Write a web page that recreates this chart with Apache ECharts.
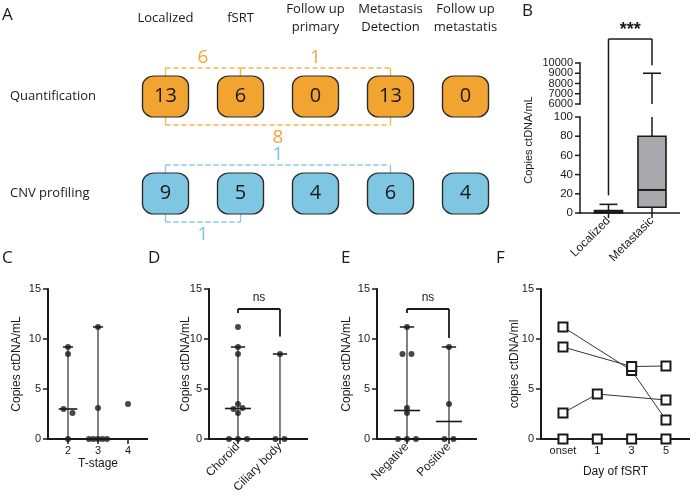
<!DOCTYPE html>
<html><head><meta charset="utf-8">
<script src="https://cdn.jsdelivr.net/npm/echarts@6/dist/echarts.min.js"></script>
<style>html,body{margin:0;padding:0;background:#fff}#c{width:690px;height:500px}</style>
</head><body><div id="c"></div>
<script>
// ---------------- DATA ----------------
// Panel A
const stages = ['Localized', 'fSRT', 'Follow up\nprimary', 'Metastasis\nDetection', 'Follow up\nmetastatis'];
const assays = ['Quantification', 'CNV profiling'];
const quantCounts = [13, 6, 0, 13, 0];
const cnvCounts = [9, 5, 4, 6, 4];
// links: [fromStage, toStage, shared patients]
const quantUpperLinks = [[0, 1, 6], [1, 3, 1]];
const quantLowerLinks = [[0, 3, 8]];
const cnvUpperLinks = [[0, 3, 1]];
const cnvLowerLinks = [[0, 1, 1]];

// Panel B
const bGroups = ['Localized', 'Metastasic'];
const bMin = [0, 0];
const bQ1 = [0, 6];
const bMedian = [1, 24];
const bQ3 = [2.5, 80];
const bMax = [9, 9000];
const bSignif = '***';
const bUpperTicks = [6000, 7000, 8000, 9000, 10000];
const bLowerTicks = [0, 20, 40, 60, 80, 100];

// Panel C
const cStages = [2, 3, 4];
const cValues = [[0, 2.6, 3.0, 8.5, 9.2], [0, 0, 0, 0, 0, 3.1, 11.2], [3.5]];
const cMedian = [3.0, 0, null];
const cLow = [0, 0, null];
const cHigh = [9.2, 11.2, null];

// Panel D
const dGroups = ['Choroid', 'Ciliary body'];
const dValues = [[0, 0, 0, 2.6, 3.0, 3.1, 3.5, 8.5, 9.2, 11.2], [0, 0, 8.5]];
const dMedian = [3.05, 0];
const dLow = [0, 0];
const dHigh = [9.2, 8.5];
const dSignif = ['ns', 13, 12.6, 10.25]; // text, bracket top, left end, right end

// Panel E
const eGroups = ['Negative', 'Positive'];
const eValues = [[0, 0, 0, 2.6, 3.1, 8.5, 8.5, 11.2], [0, 0, 3.5, 9.2]];
const eMedian = [2.85, 1.75];
const eLow = [0, 0];
const eHigh = [11.2, 9.2];
const eSignif = ['ns', 13, 12.6, 10.1];

// Panel F
const fDays = ['onset', '1', '3', '5'];
const fPatients = [
  [11.2, null, 6.85, 1.9],
  [9.2, null, 7.25, 7.3],
  [2.6, 4.5, null, 3.9],
  [0, 0, 0, 0]
];
const yTicks015 = [0, 5, 10, 15];

// ---------------- STYLE / LAYOUT ----------------
const SANS = '"Liberation Sans", Arial, sans-serif';
const HUM = '"Open Sans", "Noto Sans", sans-serif';
const INK = '#1a1a1a';
const ORANGE = '#F2A431';
const ORANGE_LINE = '#F6B455';
const ORANGE_TEXT = '#F5A53A';
const BLUE = '#7EC6E1';
const BLUE_LINE = '#86CAE5';
const BLUE_TEXT = '#7CC3E0';

// grid order: 0 A, 1 B-upper, 2 B-lower, 3 C, 4 D, 5 E, 6 F
const G = {
  A: {left: 128, top: 48, width: 375, height: 194},
  Bu: {left: 580, top: 63, width: 100, height: 41},
  Bl: {left: 580, top: 117, width: 100, height: 96},
  C: {left: 48, top: 289, width: 100, height: 150},
  D: {left: 209, top: 289, width: 99, height: 150},
  E: {left: 377, top: 289, width: 100, height: 150},
  F: {left: 541, top: 289, width: 149, height: 150}
};
const XR = {B: [-0.655, 1.644], C: [4 / 3, 14 / 3], D: [-0.69, 1.667], E: [-0.714, 1.667], F: [-0.64, 3.7]};
const BREAK_GAP = G.Bl.top - (G.Bu.top + G.Bu.height);
const XI = {Bl: 0, C: 1, D: 2, E: 3, F: 4, A: 5, Bu: 6};
const YI = {Bu: 0, Bl: 1, C: 2, D: 3, E: 4, F: 5, A: 6};

// ---------------- HELPERS ----------------
function swarm(vals, pxPerUnit) {
  const order = vals.map((v, i) => i).sort((a, b) => vals[a] - vals[b]);
  const groups = [];
  order.forEach(i => {
    const g = groups[groups.length - 1];
    if (g && Math.abs(vals[i] - vals[g[0]]) <= 0.15) g.push(i); else groups.push([i]);
  });
  const off = new Array(vals.length).fill(0);
  groups.forEach(g => {
    const k = g.length; if (k < 2) return;
    const sp = Math.min(9, 18 / (k - 1));
    g.forEach((i, j) => off[i] = (j - (k - 1) / 2) * sp);
  });
  for (let n = 0; n < groups.length - 1; n++) {
    const g = groups[n], h = groups[n + 1];
    if (g.length === 1 && h.length === 1 && !g.p && !h.p && vals[h[0]] - vals[g[0]] < 0.5) {
      off[g[0]] = 4.5; off[h[0]] = -4.5; g.p = h.p = true;
    }
  }
  return off.map(o => o / pxPerUnit);
}
function dots(groupVals, xs, grid, range) {
  const ppu = grid.width / (range[1] - range[0]);
  const out = [];
  groupVals.forEach((vals, gi) => {
    const off = swarm(vals, ppu);
    vals.forEach((v, j) => out.push([xs[gi] + off[j], v]));
  });
  return out;
}
function L(x1, y1, x2, y2, stroke, w, dash) {
  const s = {stroke: stroke, lineWidth: w};
  if (dash) s.lineDash = dash;
  return {type: 'line', shape: {x1, y1, x2, y2}, style: s};
}
function R(x, y, w, h) {
  return {type: 'rect', shape: {x: x, y: y, width: w, height: h}, style: {fill: INK}};
}
function T(x, y, text, size, color, font, weight, align) {
  return {type: 'text', x: x, y: y, style: {text: text, fontSize: size, fontFamily: font, fontWeight: weight || 'normal',
    fill: color, align: align || 'center', verticalAlign: 'middle'}};
}

function renderLink(params, api) {
  const row = api.value(2), side = api.value(3);
  const a = api.coord([api.value(0), row]);
  const b = api.coord([api.value(1), row]);
  const col = row === 0 ? ORANGE_LINE : BLUE_LINE;
  const tcol = row === 0 ? ORANGE_TEXT : BLUE_TEXT;
  const edge = a[1] + side * 20.5;
  const ly = edge + side * 8;
  return {type: 'group', children: [
    L(a[0], ly, b[0], ly, col, 1.3, [5, 3]),
    L(a[0], edge, a[0], ly, col, 1.3),
    L(b[0], edge, b[0], ly, col, 1.3),
    T((a[0] + b[0]) / 2, ly + (side < 0 ? -10 : 13), String(api.value(4)), 19, tcol, HUM)
  ]};
}

function renderBox(params, api) {
  const cs = params.coordSys;
  const top = cs.y, bot = cs.y + cs.height;
  const i = api.value(0);
  const cx = api.coord([i, 0])[0];
  const Y = v => api.coord([i, v])[1];
  const clamp = y => Math.max(top, Math.min(bot, y));
  const yMin = Y(api.value(1)), yQ1 = Y(api.value(2)), yMed = Y(api.value(3)), yQ3 = Y(api.value(4)), yMax = Y(api.value(5));
  const ch = [];
  const vline = (y1, y2) => { const a = clamp(y1), b = clamp(y2); if (Math.abs(a - b) > 0.5) ch.push(L(cx, a, cx, b, INK, 1.5)); };
  vline(yQ1, yMin); vline(yQ3, yMax);
  const bt = clamp(yQ3), bb = clamp(yQ1);
  if (bb - bt > 0.5) {
    ch.push({type: 'rect', shape: {x: cx - 14, y: bt, width: 28, height: bb - bt}, style: {fill: '#A8A8AD', stroke: INK, lineWidth: 1.6}});
    if (yMed >= top && yMed <= bot) ch.push(L(cx - 14, yMed, cx + 14, yMed, INK, 2));
  }
  if (yMax >= top - 0.5 && yMax <= bot + 0.5) ch.push(L(cx - 9, yMax, cx + 9, yMax, INK, 1.6));
  return {type: 'group', children: ch};
}

function renderSigUpper(params, api) {
  const cs = params.coordSys;
  const xl = api.coord([0, 8000])[0], xr = api.coord([1, 8000])[0];
  const yTop = cs.y - 24;
  const yR = api.coord([1, bMax[1]])[1] - 8;
  return {type: 'group', children: [
    L(xl, yTop, xr, yTop, INK, 1.5),
    L(xr, yTop, xr, yR, INK, 1.5),
    L(xl, yTop, xl, cs.y + cs.height + BREAK_GAP, INK, 1.5),
    T((xl + xr) / 2, yTop - 9, bSignif, 18, INK, SANS, 'bold')
  ]};
}
function renderSigLower(params, api) {
  const cs = params.coordSys;
  const p = api.coord([0, bMax[0]]);
  return L(p[0], p[1] - 9, p[0], cs.y, INK, 1.5);
}

function renderSummary(params, api) {
  const x = api.value(0);
  const pL = api.coord([x, api.value(1)]), pM = api.coord([x, api.value(2)]), pH = api.coord([x, api.value(3)]);
  const step = api.size([1, 0])[0];
  const cap = step * 0.17, med = step * 0.31;
  return {type: 'group', children: [
    L(pL[0], pL[1], pH[0], pH[1], INK, 1.1),
    L(pH[0] - cap, pH[1], pH[0] + cap, pH[1], INK, 1.5),
    L(pL[0] - cap, pL[1], pL[0] + cap, pL[1], INK, 1.5),
    L(pM[0] - med, pM[1], pM[0] + med, pM[1], INK, 1.6)
  ]};
}
function renderSig(params, api) {
  const top = api.value(0), le = api.value(1), re = api.value(2);
  const a = api.coord([0, top]), b = api.coord([1, top]);
  const yl = api.coord([0, le])[1], yr = api.coord([1, re])[1];
  return {type: 'group', children: [
    L(a[0], a[1], b[0], b[1], INK, 1.8),
    L(a[0], a[1], a[0], yl, INK, 1.8),
    L(b[0], b[1], b[0], yr, INK, 1.8),
    T((a[0] + b[0]) / 2, a[1] - 11, params.seriesName, 12, INK, SANS)
  ]};
}

// axis lines + ticks drawn (as filled bars) through each grid's own scales
function axesSeries(xi, yi, o) {
  return {type: 'custom', xAxisIndex: xi, yAxisIndex: yi, z: 3,
    data: [[o.xr[0], o.yr[0]]], encode: {x: 0, y: 1},
    renderItem: (params, api) => {
      const ch = [];
      const w = o.w, tw = o.tw;
      const p0 = api.coord([o.xr[0], o.yr[0]]);
      const pTop = api.coord([o.xr[0], o.yr[1]]);
      ch.push(R(p0[0] - w / 2, pTop[1] - tw / 2, w, p0[1] - pTop[1] + tw / 2 + w / 2));
      o.yTicks.forEach(v => {
        const p = api.coord([o.xr[0], v]);
        ch.push(R(p[0] - 5, p[1] - tw / 2, 5, tw));
        if (o.yLabels) ch.push(T(p[0] - 7, p[1], String(v), o.fs, INK, SANS, 'normal', 'right'));
      });
      if (o.xTicks) {
        const pr = api.coord([o.xr[1], o.yr[0]]);
        ch.push(R(p0[0] - w / 2, p0[1] - w / 2, pr[0] - p0[0] + w / 2, w));
        o.xTicks.forEach(v => {
          const p = api.coord([v, o.yr[0]]);
          ch.push(R(p[0] - tw / 2, p[1], tw, 5));
        });
      }
      return {type: 'group', children: ch};
    }};
}

// ---------------- AXES ----------------
const noLine = {show: false, onZero: false};
const noTick = {show: false};
const lbl = (size, extra) => Object.assign({fontSize: size, color: INK, fontFamily: SANS, margin: 7}, extra || {});
const nameStyle = {fontSize: 12, color: INK, fontFamily: SANS};

function yVal(gi, name, gap) {
  return {type: 'value', gridIndex: gi, min: 0, max: 15, interval: 5,
    axisLine: noLine, axisTick: noTick, axisLabel: lbl(11), splitLine: {show: false},
    name: name, nameLocation: 'middle', nameGap: gap, nameTextStyle: nameStyle, nameMoveOverlap: false};
}
function xVal(gi, range, custom, fmt, rot, name, gap) {
  const ax = {type: 'value', gridIndex: gi, min: range[0], max: range[1],
    axisLine: noLine, axisTick: noTick, splitLine: {show: false},
    axisLabel: lbl(rot ? 12 : 11, {customValues: custom, formatter: fmt, rotate: rot || 0, margin: 6})};
  if (name) Object.assign(ax, {name: name, nameLocation: 'middle', nameGap: gap, nameTextStyle: nameStyle, nameMoveOverlap: false});
  return ax;
}

const grids = [G.A, G.Bu, G.Bl, G.C, G.D, G.E, G.F].map(g => Object.assign({containLabel: false, outerBoundsMode: 'none'}, g));

const xAxes = [
  xVal(2, XR.B, [0, 1], v => bGroups[Math.round(v)], 45),
  xVal(3, XR.C, cStages, v => String(v), 0, 'T-stage', 19),
  xVal(4, XR.D, [0, 1], v => dGroups[Math.round(v)], 45),
  xVal(5, XR.E, [0, 1], v => eGroups[Math.round(v)], 45),
  xVal(6, XR.F, [0, 1, 2, 3], v => fDays[Math.round(v)], 0, 'Day of fSRT', 27),
  {type: 'category', gridIndex: 0, position: 'top', data: stages, axisLine: {show: false}, axisTick: {show: false}, splitLine: {show: false},
    axisLabel: {interval: 0, margin: 30, verticalAlign: 'middle', lineHeight: 18, fontSize: 13, fontFamily: HUM, color: INK}},
  {type: 'value', gridIndex: 1, min: XR.B[0], max: XR.B[1], show: false}
];
const yAxes = [
  {type: 'value', gridIndex: 1, min: 6000, max: 10000, interval: 1000, axisLine: noLine, axisTick: noTick,
    axisLabel: {show: false}, splitLine: {show: false}},
  {type: 'value', gridIndex: 2, min: 0, max: 100, interval: 20, axisLine: noLine, axisTick: noTick,
    axisLabel: lbl(11.5, {margin: 7}), splitLine: {show: false},
    name: 'Copies ctDNA/mL', nameLocation: 'middle', nameGap: 46, nameMoveOverlap: false,
    nameTextStyle: {fontSize: 11, color: INK, fontFamily: SANS, padding: [0, 0, 0, 50]}},
  yVal(3, 'Copies ctDNA/mL', 25),
  yVal(4, 'Copies ctDNA/mL', 17),
  yVal(5, 'Copies ctDNA/mL', 24),
  yVal(6, 'copies ctDNA/ml', 20),
  {type: 'category', gridIndex: 0, inverse: true, data: assays, axisLine: {show: false}, axisTick: {show: false}, splitLine: {show: false},
    axisLabel: {margin: 118, align: 'left', fontSize: 13, fontFamily: HUM, color: INK}}
];

// ---------------- SERIES ----------------
const linkData = [
  ...quantUpperLinks.map(l => [l[0], l[1], 0, -1, l[2]]),
  ...quantLowerLinks.map(l => [l[0], l[1], 0, 1, l[2]]),
  ...cnvUpperLinks.map(l => [l[0], l[1], 1, -1, l[2]]),
  ...cnvLowerLinks.map(l => [l[0], l[1], 1, 1, l[2]])
];
const boxRow = (counts, row, color) => ({
  type: 'scatter', xAxisIndex: XI.A, yAxisIndex: YI.A, symbol: 'roundRect', symbolSize: [46, 41], z: 3,
  data: counts.map((n, i) => [i, row, n]),
  itemStyle: {color: color, borderColor: '#2a2a2a', borderWidth: 1.3, opacity: 1},
  label: {show: true, position: 'inside', formatter: p => String(p.value[2]), fontSize: 20, fontFamily: HUM, color: INK}
});
const bData = bGroups.map((g, i) => [i, bMin[i], bQ1[i], bMedian[i], bQ3[i], bMax[i]]);

function summaryData(xs, low, med, high) {
  const out = [];
  xs.forEach((x, i) => { if (med[i] !== null) out.push([x, low[i], med[i], high[i]]); });
  return out;
}
const dotStyle = {type: 'scatter', symbol: 'circle', symbolSize: 6, itemStyle: {color: INK}, z: 4};

const series = [
  // axes (lines + ticks)
  axesSeries(XI.Bu, YI.Bu, {xr: XR.B, yr: [6000, 10000], yTicks: bUpperTicks, xTicks: null, w: 1.5, tw: 1.5, yLabels: true, fs: 11}),
  axesSeries(XI.Bl, YI.Bl, {xr: XR.B, yr: [0, 100], yTicks: bLowerTicks, xTicks: [0, 1], w: 1.5, tw: 1.5}),
  axesSeries(XI.C, YI.C, {xr: XR.C, yr: [0, 15], yTicks: yTicks015, xTicks: cStages, w: 2, tw: 1.5}),
  axesSeries(XI.D, YI.D, {xr: XR.D, yr: [0, 15], yTicks: yTicks015, xTicks: [0, 1], w: 2, tw: 1.5}),
  axesSeries(XI.E, YI.E, {xr: XR.E, yr: [0, 15], yTicks: yTicks015, xTicks: [0, 1], w: 2, tw: 1.5}),
  axesSeries(XI.F, YI.F, {xr: XR.F, yr: [0, 15], yTicks: yTicks015, xTicks: [0, 1, 2, 3], w: 2, tw: 1.5}),

  boxRow(quantCounts, 0, ORANGE),
  boxRow(cnvCounts, 1, BLUE),
  {type: 'custom', xAxisIndex: XI.A, yAxisIndex: YI.A, renderItem: renderLink, data: linkData, encode: {x: [0, 1], y: 2}, z: 2},

  {type: 'custom', xAxisIndex: XI.Bu, yAxisIndex: YI.Bu, renderItem: renderBox, data: bData, encode: {x: 0, y: [1, 2, 3, 4, 5]}},
  {type: 'custom', xAxisIndex: XI.Bl, yAxisIndex: YI.Bl, renderItem: renderBox, data: bData, encode: {x: 0, y: [1, 2, 3, 4, 5]}},
  {type: 'custom', xAxisIndex: XI.Bu, yAxisIndex: YI.Bu, renderItem: renderSigUpper, data: [[0, 8000]], encode: {x: 0, y: 1}},
  {type: 'custom', xAxisIndex: XI.Bl, yAxisIndex: YI.Bl, renderItem: renderSigLower, data: [[0, bMax[0]]], encode: {x: 0, y: 1}},

  {type: 'custom', xAxisIndex: XI.C, yAxisIndex: YI.C, renderItem: renderSummary, data: summaryData(cStages, cLow, cMedian, cHigh), encode: {x: 0, y: [1, 2, 3]}},
  Object.assign({xAxisIndex: XI.C, yAxisIndex: YI.C, data: dots(cValues, cStages, G.C, XR.C)}, dotStyle),

  {type: 'custom', xAxisIndex: XI.D, yAxisIndex: YI.D, renderItem: renderSummary, data: summaryData([0, 1], dLow, dMedian, dHigh), encode: {x: 0, y: [1, 2, 3]}},
  Object.assign({xAxisIndex: XI.D, yAxisIndex: YI.D, data: dots(dValues, [0, 1], G.D, XR.D)}, dotStyle),
  {type: 'custom', name: dSignif[0], xAxisIndex: XI.D, yAxisIndex: YI.D, renderItem: renderSig, data: [dSignif.slice(1)], encode: {y: [0, 1, 2]}},

  {type: 'custom', xAxisIndex: XI.E, yAxisIndex: YI.E, renderItem: renderSummary, data: summaryData([0, 1], eLow, eMedian, eHigh), encode: {x: 0, y: [1, 2, 3]}},
  Object.assign({xAxisIndex: XI.E, yAxisIndex: YI.E, data: dots(eValues, [0, 1], G.E, XR.E)}, dotStyle),
  {type: 'custom', name: eSignif[0], xAxisIndex: XI.E, yAxisIndex: YI.E, renderItem: renderSig, data: [eSignif.slice(1)], encode: {y: [0, 1, 2]}},

  ...fPatients.map(p => ({
    type: 'line', xAxisIndex: XI.F, yAxisIndex: YI.F, z: 5,
    data: p.map((v, i) => [i, v]).filter(d => d[1] !== null),
    symbol: 'rect', symbolSize: 9, showSymbol: true,
    itemStyle: {color: '#ffffff', borderColor: INK, borderWidth: 2},
    lineStyle: {color: '#333', width: 1}
  }))
];

const letter = (t, left, top) => ({text: t, left: left, top: top, padding: 0,
  textStyle: {fontSize: 17, fontFamily: HUM, fontWeight: 'normal', color: INK}});

const chart = echarts.init(document.getElementById('c'));
chart.setOption({
  animation: false,
  title: [letter('A', 2, 7), letter('B', 522, 3), letter('C', 2, 250), letter('D', 148, 250), letter('E', 341, 250), letter('F', 496, 250)],
  grid: grids,
  xAxis: xAxes,
  yAxis: yAxes,
  series: series
});
</script></body></html>
